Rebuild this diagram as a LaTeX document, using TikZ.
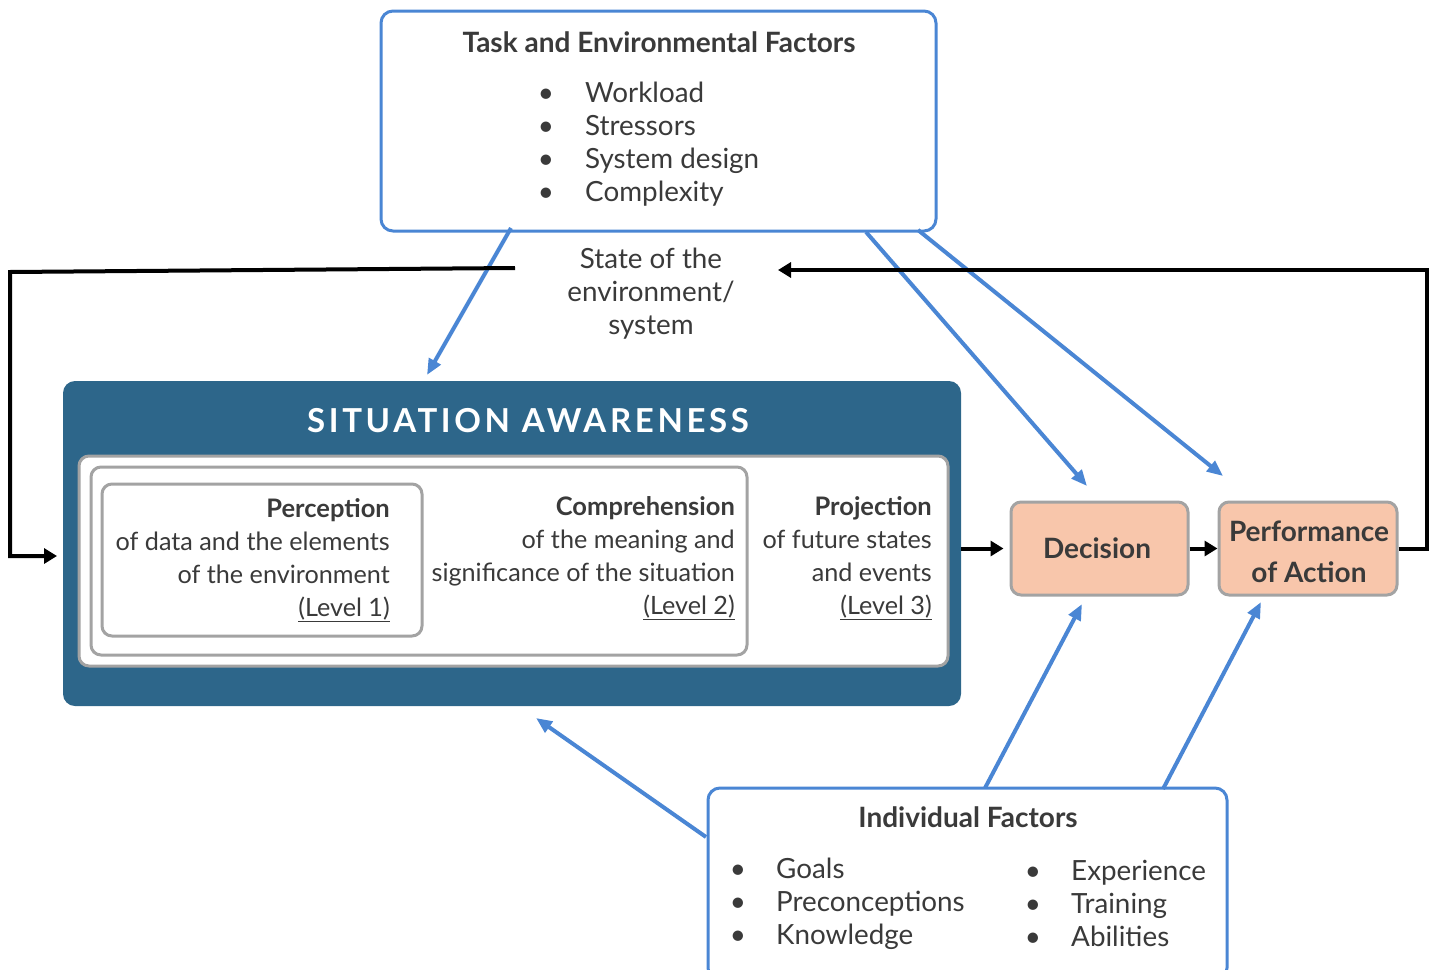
\documentclass[tikz,border=0pt]{standalone}
\usepackage{fontspec}
\setmainfont{Lato}
\usetikzlibrary{arrows.meta,calc}
\definecolor{ink}{HTML}{3A3A3A}
\definecolor{sablue}{HTML}{2D668A}
\definecolor{linkblue}{HTML}{4A86D4}
\definecolor{peach}{HTML}{F8C6AB}
\definecolor{framegray}{HTML}{A3A3A3}

\begin{document}
\begin{tikzpicture}[x=1pt,y=-1pt,
  body/.style={font=\fontsize{25.2}{30}\selectfont, text=ink, inner sep=0pt},
  head/.style={font=\fontsize{25.5}{30}\selectfont\bfseries, text=ink, inner sep=0pt},
  bigbody/.style={font=\fontsize{27.8}{32}\selectfont, text=ink, inner sep=0pt},
  bighead/.style={font=\fontsize{28}{32}\selectfont\bfseries, text=ink, inner sep=0pt},
  factorbox/.style={draw=linkblue, line width=3pt, rounded corners=12pt, fill=white, inner sep=0pt},
  levelbox/.style={draw=framegray, line width=3pt, rounded corners=10pt, fill=white, inner sep=0pt},
  outcome/.style={draw=framegray, line width=3pt, rounded corners=10pt, fill=peach, inner sep=0pt},
  influence/.style={draw=linkblue, line width=4pt, -{Triangle[length=16pt,width=13pt]}},
  loopline/.style={draw=black, line width=4pt, -{Triangle[length=13pt,width=15pt]}},
]
\useasboundingbox (0,0) rectangle (1432,969);

% ---------- boxes ----------
\node[factorbox, minimum width=555pt, minimum height=220pt] (task) at (658.5,121) {};
\node[factorbox, minimum width=519pt, minimum height=192pt] (indiv) at (967.5,884) {};
\node[fill=sablue, rounded corners=12pt, minimum width=898pt, minimum height=325pt, inner sep=0pt] (sa) at (512,543.5) {};
\node[levelbox, minimum width=869pt, minimum height=210pt] (proj) at (513.5,561) {};
\node[levelbox, minimum width=656pt, minimum height=188pt] (comp) at (419,561) {};
\node[levelbox, minimum width=320pt, minimum height=152pt] (perc) at (262,560) {};
\node[outcome, minimum width=177pt, minimum height=93pt] (dec) at (1099.5,548.5) {};
\node[outcome, minimum width=178pt, minimum height=93pt] (perf) at (1308,548.5) {};

% ---------- task and environmental factors ----------
\node[bighead, anchor=base] (taskT) at (659,52) {Task and Environmental Factors};
\node[bigbody, anchor=base] (tb1) at (546,102) {•};
\node[bigbody, anchor=base] (tb2) at (546,135) {•};
\node[bigbody, anchor=base] (tb3) at (546,168) {•};
\node[bigbody, anchor=base] (tb4) at (546,201) {•};
\node[bigbody, anchor=base west] (tt1) at (585,102) {Workload};
\node[bigbody, anchor=base west] (tt2) at (585,135) {Stressors};
\node[bigbody, anchor=base west] (tt3) at (585,168) {System design};
\node[bigbody, anchor=base west] (tt4) at (585,201) {Complexity};

% ---------- state of the environment ----------
\node[bigbody, anchor=base] (st1) at (651,268) {State of the};
\node[bigbody, anchor=base] (st2) at (651,301) {environment/};
\node[bigbody, anchor=base] (st3) at (651,334) {system};

% ---------- situation awareness ----------
\node[font=\fontsize{33}{36}\selectfont\bfseries\addfontfeature{LetterSpace=11}, text=white, inner sep=0pt, anchor=base] (saT) at (528,432) {SITUATION AWARENESS};

\node[head, anchor=base east] (p1) at (390,517) {Perception};
\node[body, anchor=base east] (p2) at (390,550) {of data and the elements};
\node[body, anchor=base east] (p3) at (390,583) {of the environment};
\node[body, anchor=base east] (p4) at (390,616) {\underline{(Level 1)}};

\node[head, anchor=base east] (c1) at (735,515) {Comprehension};
\node[body, anchor=base east] (c2) at (735,548) {of the meaning and};
\node[body, anchor=base east] (c3) at (735,581) {significance of the situation};
\node[body, anchor=base east] (c4) at (735,614) {\underline{(Level 2)}};

\node[head, anchor=base east] (j1) at (932,515) {Projection};
\node[body, anchor=base east] (j2) at (932,548) {of future states};
\node[body, anchor=base east] (j3) at (932,581) {and events};
\node[body, anchor=base east] (j4) at (932,614) {\underline{(Level 3)}};

% ---------- decision and action ----------
\node[bighead, anchor=base] (decT) at (1097,558) {Decision};
\node[bighead, anchor=base] (perfT1) at (1309,541) {Performance};
\node[bighead, anchor=base] (perfT2) at (1309,582) {of Action};

% ---------- individual factors ----------
\node[bighead, anchor=base] (indT) at (968,827) {Individual Factors};
\node[bigbody, anchor=base] (ib1) at (738,878) {•};
\node[bigbody, anchor=base] (ib2) at (738,911) {•};
\node[bigbody, anchor=base] (ib3) at (738,944) {•};
\node[bigbody, anchor=base west] (it1) at (776,878) {Goals};
\node[bigbody, anchor=base west] (it2) at (776,911) {Preconceptions};
\node[bigbody, anchor=base west] (it3) at (776,944) {Knowledge};
\node[bigbody, anchor=base] (ib4) at (1033,880) {•};
\node[bigbody, anchor=base] (ib5) at (1033,913) {•};
\node[bigbody, anchor=base] (ib6) at (1033,946) {•};
\node[bigbody, anchor=base west] (it4) at (1071,880) {Experience};
\node[bigbody, anchor=base west] (it5) at (1071,913) {Training};
\node[bigbody, anchor=base west] (it6) at (1071,946) {Abilities};

% ---------- connector end points ----------
\coordinate (taskA) at (511,228);   \coordinate (saTop) at (427,375);
\coordinate (taskB) at (866,232);   \coordinate (decTop) at (1087,486);
\coordinate (taskC) at (918,230);   \coordinate (perfTop) at (1223,476);
\coordinate (indA) at (985,788);    \coordinate (decBot) at (1082,604);
\coordinate (indB) at (1163,789);   \coordinate (perfBot) at (1261,602);
\coordinate (indC) at (706,837);    \coordinate (saBot) at (536,718);
\coordinate (stateL) at (515,268);  \coordinate (loopLT) at (10,272);
\coordinate (loopLB) at (10,556);   \coordinate (saIn) at (57,556);
\coordinate (loopRB) at (1427,548.5); \coordinate (stateR) at (778,270);

% ---------- influences ----------
\draw[influence] (taskA) -- (saTop);
\draw[influence] (taskB) -- (decTop);
\draw[influence] (taskC) -- (perfTop);
\draw[influence] (indA) -- (decBot);
\draw[influence] (indB) -- (perfBot);
\draw[influence] (indC) -- (saBot);

% ---------- main flow and feedback ----------
\draw[loopline, shorten >=6pt] (sa.east |- dec.west) -- (dec.west);
\draw[loopline] (dec.east) -- (perf.west);
\draw[loopline] (perf.east) -- (loopRB) |- (stateR);
\draw[loopline] (stateL) -- (loopLT) -- (loopLB) -- (saIn);
\end{tikzpicture}
\end{document}
